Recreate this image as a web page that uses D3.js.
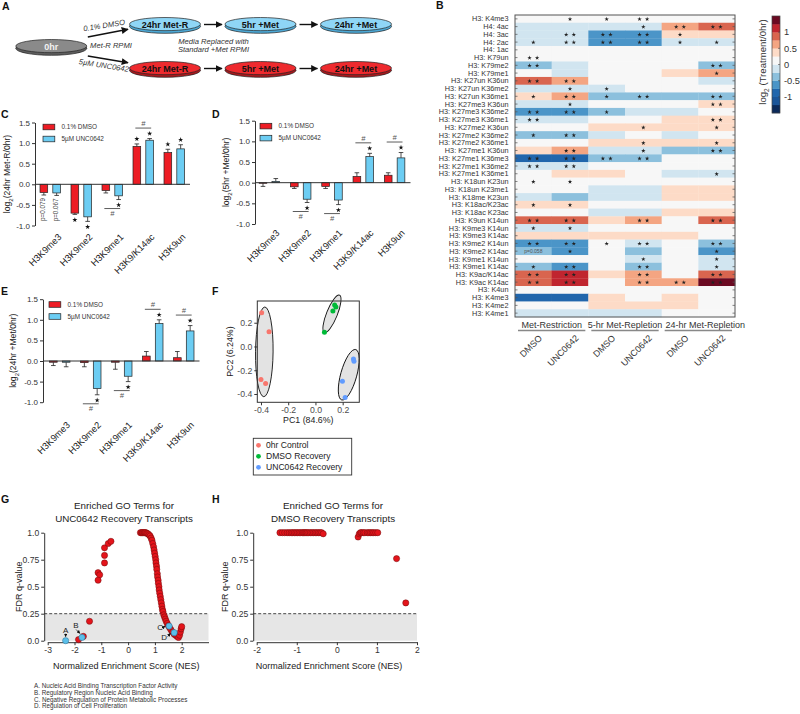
<!DOCTYPE html>
<html><head><meta charset="utf-8">
<script src="https://cdn.jsdelivr.net/npm/d3@7"></script>
<style>
body{margin:0;background:#fff}
svg{display:block}
text{font-family:"Liberation Sans",Arial,Helvetica,sans-serif}
</style>
</head><body>
<svg id="chart" width="800" height="714"></svg>
<script>
// ================= DATA =================
// Panel A
const stageLabels = ["24hr Met-R", "5hr +Met", "24hr +Met"];
const conditionLabels = ["0.1% DMSO", "5µM UNC0642"];

// Panels C, D, E
const barCategories = ["H3K9me3", "H3K9me2", "H3K9me1", "H3K9/K14ac", "H3K9un"];
const seriesNames = ["0.1% DMSO", "5µM UNC0642"];
const cDmso = [-0.20, -0.70, -0.15, 0.92, 0.77];
const cDmsoErr = [0.06, 0.03, 0.06, 0.06, 0.08];
const cUnc = [-0.21, -0.79, -0.28, 1.07, 0.86];
const cUncErr = [0.06, 0.11, 0.09, 0.04, 0.10];
const cStars = [[1, 0, "below"], [3, 0, "above"], [4, 0, "above"], [1, 1, "below"], [2, 1, "below"], [3, 1, "above"], [4, 1, "above"]];
const cHashes = [[2, "below"], [3, "above"]];
const cPvals = [[0, 0, "p=0.079"], [0, 1, "p=0.067"]];

const dDmso = [-0.01, -0.10, -0.09, 0.15, 0.18];
const dDmsoErr = [0.08, 0.04, 0.05, 0.09, 0.06];
const dUnc = [0.03, -0.40, -0.42, 0.63, 0.60];
const dUncErr = [0.07, 0.08, 0.11, 0.08, 0.13];
const dStars = [[1, 1, "below"], [2, 1, "below"], [3, 1, "above"], [4, 1, "above"]];
const dHashes = [[1, "below"], [2, "below"], [3, "above"], [4, "above"]];

const eDmso = [-0.03, -0.04, -0.03, 0.12, 0.08];
const eDmsoErr = [0.08, 0.10, 0.17, 0.11, 0.15];
const eUnc = [-0.03, -0.67, -0.37, 0.91, 0.73];
const eUncErr = [0.11, 0.15, 0.13, 0.09, 0.13];
const eStars = [[1, 1, "below"], [2, 1, "below"], [3, 1, "above"], [4, 1, "above"]];
const eHashes = [[1, "below"], [2, "below"], [3, "above"], [4, "above"]];

const barTicks = [-1.0, -0.5, 0.0, 0.5, 1.0, 1.5];

// Panel B heatmap
const hmRows = ["H3: K4me3","H4: 4ac","H4: 3ac","H4: 2ac","H4: 1ac","H3: K79un","H3: K79me2","H3: K79me1",
 "H3: K27un K36un","H3: K27un K36me2","H3: K27un K36me1","H3: K27me3 K36un","H3: K27me3 K36me2","H3: K27me3 K36me1",
 "H3: K27me2 K36un","H3: K27me2 K36me2","H3: K27me2 K36me1","H3: K27me1 K36un","H3: K27me1 K36me3","H3: K27me1 K36me2",
 "H3: K27me1 K36me1","H3: K18un K23un","H3: K18un K23me1","H3: K18me K23un","H3: K18ac/K23ac","H3: K18ac K23ac",
 "H3: K9un K14un","H3: K9me3 K14un","H3: K9me3 K14ac","H3: K9me2 K14un","H3: K9me2 K14ac","H3: K9me1 K14un",
 "H3: K9me1 K14ac","H3: K9ac/K14ac","H3: K9ac K14ac","H3: K4un","H3: K4me3","H3: K4me2","H3: K4me1"];
const hmColumns = ["DMSO", "UNC0642", "DMSO", "UNC0642", "DMSO", "UNC0642"];
const hmGroups = ["Met-Restriction", "5-hr Met-Repletion", "24-hr Met-Repletion"];
const hmValues = [
 [0.05,0.05,0.05,0.05,0.05,0.05],
 [-0.15,-0.15,-0.15,-0.15,0.6,0.85],
 [-0.15,-0.15,-0.55,-0.55,0.35,0.35],
 [-0.15,-0.15,-0.55,-0.55,-0.15,-0.15],
 [0.05,0.05,0.05,0.05,0.05,0.05],
 [0.05,0.05,0.05,0.05,0.05,0.05],
 [-0.4,-0.15,0.05,0.05,0.05,-0.4],
 [0.05,-0.15,0.05,0.05,0.35,0.6],
 [0.85,0.6,0.05,0.05,0.05,-0.15],
 [-0.15,-0.15,-0.15,0.05,0.05,0.05],
 [0.35,0.6,-0.4,-0.4,-0.4,-0.4],
 [-0.15,-0.15,0.05,0.05,0.05,0.35],
 [-0.6,-0.6,-0.4,-0.15,-0.15,0.05],
 [-0.15,-0.15,0.05,0.05,0.35,0.35],
 [0.05,0.05,0.35,0.35,0.35,0.35],
 [-0.4,-0.4,-0.15,0.05,-0.15,0.05],
 [0.05,0.05,0.35,0.35,0.35,0.35],
 [0.35,0.6,-0.15,-0.15,-0.4,-0.4],
 [-0.9,-0.9,-0.4,-0.4,0.05,0.05],
 [-0.15,-0.15,0.05,0.05,0.05,0.05],
 [0.05,0.35,0.35,0.05,-0.15,-0.15],
 [0.05,0.05,0.05,0.05,0.05,0.05],
 [0.05,0.05,-0.15,-0.15,0.35,0.35],
 [-0.15,-0.4,-0.15,-0.15,0.35,0.35],
 [0.35,0.35,0.05,0.05,0.05,0.05],
 [0.05,0.05,-0.15,-0.15,0.35,0.35],
 [0.85,0.85,0.35,0.6,0.05,0.85],
 [-0.15,-0.15,0.05,0.05,0.05,0.05],
 [0.35,0.35,0.35,0.35,0.35,0.05],
 [-0.6,-0.6,0.05,-0.15,0.05,-0.4],
 [-0.4,-0.6,0.05,-0.4,0.05,-0.6],
 [0.05,0.05,0.05,-0.15,0.05,-0.15],
 [-0.4,-0.6,0.05,-0.4,0.05,-0.15],
 [0.85,1.1,0.35,0.6,0.05,0.85],
 [0.85,1.1,0.05,0.6,0.6,1.4],
 [0.05,0.05,0.05,0.05,0.05,0.05],
 [-0.9,-0.9,0.35,0.05,0.35,0.05],
 [0.05,0.05,0.35,0.35,0.35,0.05],
 [-0.15,-0.15,-0.15,-0.15,0.05,0.05]
];
const hmStars = [
 [0,1,1,2,0,0],[0,0,0,1,2,2],[0,2,2,2,1,0],[1,2,2,2,1,1],[0,0,0,0,0,0],[2,0,0,0,0,0],[2,0,0,0,0,2],[0,0,0,0,0,1],
 [2,2,0,0,0,0],[0,1,1,0,0,0],[1,2,1,2,0,2],[0,1,0,0,0,2],[2,2,1,0,0,0],[2,0,0,0,0,2],[0,0,0,1,0,1],[1,2,0,0,0,0],
 [0,0,0,1,0,1],[0,2,0,1,0,2],[2,2,2,2,0,0],[2,2,0,0,0,0],[0,0,0,0,0,1],[1,1,0,0,0,0],[0,0,0,0,0,0],[0,0,0,0,0,0],
 [1,1,0,0,0,0],[0,0,0,0,0,0],[2,2,0,2,0,2],[1,1,0,0,0,0],[0,0,0,0,0,0],[2,2,1,2,0,2],[0,1,0,0,0,1],[0,0,0,1,0,1],
 [1,2,0,2,0,1],[2,2,0,2,0,2],[2,2,0,2,2,2],[0,0,0,0,0,0],[0,0,0,0,0,0],[0,0,0,0,0,0],[0,0,0,0,0,0]
];
const hmNotes = [[30, 0, "p=0.058"]];
const hmColors = ["#0b2a5a","#1a5599","#2166ac","#4b95c8","#8cc0dd","#d1e5f0","#f7f7f7","#fddbc7","#f4a582","#d9654f","#c0252f","#6b0a22"];
const hmColorTicks = [-1, -0.5, 0, 0.5, 1];

// Panel F PCA
const pcaGroups = ["0hr Control", "DMSO Recovery", "UNC0642 Recovery"];
const pcaColors = ["#f8766d", "#00ba38", "#619cff"];
const pcaPC1 = [-0.395, -0.341, -0.400, -0.366, 0.066, 0.128, 0.141, 0.150, 0.279, 0.283, 0.198, 0.218];
const pcaPC2 = [0.284, 0.124, -0.278, -0.311, 0.119, 0.299, 0.349, 0.333, -0.106, -0.124, -0.292, -0.430];
const pcaGroup = [0, 0, 0, 0, 1, 1, 1, 1, 2, 2, 2, 2];
const pcaXTicks = [-0.4, -0.2, 0.0, 0.2];
const pcaYTicks = [-0.4, -0.2, 0.0, 0.2];

// Panel G
const gNES = [-1.12,-1.06,-1.12,-0.88,-0.88,-0.88,-0.74,-0.64,-1.44,-1.85,-1.67,
 0.46,0.50,0.53,0.56,0.60,0.63,0.66,0.70,0.74,0.78,0.82,0.86,0.89,0.92,0.95,0.97,0.99,1.01,1.03,1.04,1.06,1.07,1.09,1.10,1.12,1.13,1.15,1.16,1.18,1.20,1.22,1.24,1.26,1.28,1.30,1.33,1.36,1.39,1.42,1.46,1.50,1.55,1.60,1.66,1.72,1.78,1.83,1.88,1.92,1.95,1.98,2.00];
const gFDR = [0.63,0.61,0.56,0.86,0.79,0.72,0.90,0.92,0.18,0.01,0.04,
 1.00,1.00,1.00,1.00,1.00,1.00,1.00,0.995,0.99,0.98,0.97,0.95,0.93,0.90,0.87,0.84,0.81,0.78,0.75,0.72,0.69,0.66,0.62,0.59,0.56,0.53,0.50,0.47,0.44,0.41,0.38,0.35,0.32,0.29,0.27,0.24,0.22,0.20,0.18,0.16,0.14,0.12,0.10,0.08,0.06,0.05,0.04,0.03,0.05,0.08,0.11,0.13];
const gHighlightLabels = ["A", "B", "C", "D"];
const gHighlightNES = [-2.33, -1.72, 1.53, 1.72];
const gHighlightFDR = [0.0, 0.03, 0.135, 0.074];
const gTermNames = ["A. Nucleic Acid Binding Transcription Factor Activity", "B. Regulatory Region Nucleic Acid Binding",
 "C. Negative Regulation of Protein Metabolic Processes", "D. Regulation of Cell Proliferation"];
const gXTicks = [-3, -2, -1, 0, 1, 2];

// Panel H
const hNES = [-1.42,-1.36,-1.30,-1.24,-1.19,-1.14,-1.10,-1.06,-1.02,-0.98,-0.94,-0.90,-0.86,-0.83,-0.80,-0.77,-0.74,-0.70,-0.66,-0.62,-0.58,-0.54,-0.50,-0.46,-0.42,-0.38,-0.34,
 0.53,0.56,0.59,0.62,0.66,0.70,0.76,0.80,0.84,0.88,0.92,0.97,1.02,1.49,1.72];
const hFDR = [1,1,1,1,1,1,1,1,1,1,1,1,1,1,1,1,1,1,1,1,1,1,1,1,1,1,0.99,
 0.96,0.99,1,1,1,1,1,1,1,1,1,1,1,0.76,0.35];
const hXTicks = [-2, -1, 0, 1, 2];
const fdrTicks = [0, 0.25, 0.5, 0.75, 1.0];
const fdrCutoff = 0.25;

// ================= DRAWING =================
const svg = d3.select("#chart");
const INK = "#222";

function addText(parent, x, y, str, o = {}) {
  const t = parent.append("text").attr("x", x).attr("y", y).text(str)
    .attr("font-size", o.size || 8).attr("fill", o.fill || INK)
    .attr("text-anchor", o.anchor || "start");
  if (o.weight) t.attr("font-weight", o.weight);
  if (o.style) t.attr("font-style", o.style);
  if (o.rotate !== undefined) t.attr("transform", `rotate(${o.rotate},${x},${y})`);
  return t;
}

// panel letters
[["A",2,10],["B",436,9],["C",1,118],["D",212,118],["E",1,295],["F",212,295],["G",1,503],["H",212,503]]
  .forEach(([l, x, y]) => addText(svg, x, y, l, {size: 10.5, weight: "bold", fill: "#111"}));

// ---------- Panel A ----------
(function () {
  const g = svg.append("g");
  const defs = svg.append("defs");
  defs.append("marker").attr("id", "arr").attr("viewBox", "0 0 10 10").attr("refX", 9).attr("refY", 5)
    .attr("markerWidth", 5).attr("markerHeight", 5).attr("orient", "auto")
    .append("path").attr("d", "M0,0L10,5L0,10z").attr("fill", "#111");
  const sx = d3.scalePoint().domain(stageLabels).range([165, 356]);
  const sy = d3.scalePoint().domain(conditionLabels).range([24.5, 68.5]);
  const rx = 35.5, ry = 7;
  function dish(cx, cy, main, base, label, tcol) {
    g.append("ellipse").attr("cx", cx).attr("cy", cy + 1.8).attr("rx", rx).attr("ry", ry)
      .attr("fill", base).attr("stroke", "#222").attr("stroke-width", 0.7);
    g.append("ellipse").attr("cx", cx).attr("cy", cy - 0.4).attr("rx", rx).attr("ry", ry - 0.4)
      .attr("fill", main).attr("stroke", "#222").attr("stroke-width", 0.7);
    addText(g, cx, cy + 3, label, {size: 9, weight: "bold", anchor: "middle", fill: tcol});
  }
  const zeroX = 51.3, zeroY = (sy(conditionLabels[0]) + sy(conditionLabels[1])) / 2;
  dish(zeroX, zeroY, "#8a8a8a", "#5e5e5e", "0hr", "#f2f2f2");
  const pal = [["#8fd6f6", "#4da9d6"], ["#ee2a2e", "#a8191d"]];
  conditionLabels.forEach((c, ci) => {
    stageLabels.forEach((s, si) => {
      dish(sx(s), sy(c), pal[ci][0], pal[ci][1], s, "#111");
      if (si < stageLabels.length - 1) {
        g.append("line").attr("x1", sx(s) + rx + 3.5).attr("x2", sx(stageLabels[si + 1]) - rx - 3)
          .attr("y1", sy(c)).attr("y2", sy(c)).attr("stroke", "#111").attr("stroke-width", 1.4)
          .attr("marker-end", "url(#arr)");
      }
    });
    const dir = ci === 0 ? -1 : 1;
    g.append("line").attr("x1", zeroX + rx + 1).attr("y1", zeroY + dir * 9.5)
      .attr("x2", sx(stageLabels[0]) - rx - 1.5).attr("y2", sy(c) + (ci === 0 ? 4.8 : -5.8))
      .attr("stroke", "#111").attr("stroke-width", 1.4).attr("marker-end", "url(#arr)");
  });
  addText(g, 104.5, 28, conditionLabels[0], {size: 7.6, style: "italic", anchor: "middle", fill: "#333", rotate: -9});
  addText(g, 103.5, 68, conditionLabels[1], {size: 7.6, style: "italic", anchor: "middle", fill: "#333", rotate: 9});
  addText(g, 111, 47.8, "Met-R RPMI", {size: 7.6, style: "italic", anchor: "middle", fill: "#333"});
  addText(g, 213.5, 43.8, "Media Replaced with", {size: 7.6, style: "italic", anchor: "middle", fill: "#333"});
  addText(g, 213.5, 52.3, "Standard +Met RPMI", {size: 7.6, style: "italic", anchor: "middle", fill: "#333"});
})();

// ---------- Bar panels C, D, E ----------
function barPanel(o) {
  const g = svg.append("g");
  const y = d3.scaleLinear().domain([-1, 1.5]).range(o.yRange);
  const x = d3.scaleBand().domain(barCategories).range(o.band);
  const inner = d3.scaleBand().domain(seriesNames).range([-10.5, 10]).paddingInner(0.4);
  const colors = ["#ed1c24", "#6ccdf3"];
  const vals = [o.dmso, o.unc], errs = [o.dmsoErr, o.uncErr];

  const ax = g.append("g").attr("transform", `translate(${o.axisX},0)`)
    .call(d3.axisLeft(y).tickValues(barTicks).tickFormat(d => d.toFixed(1)).tickSize(3).tickSizeOuter(0).tickPadding(2));
  ax.selectAll("path,line").attr("stroke", "#333");
  ax.selectAll("text").attr("font-size", 8).attr("fill", "#333").attr("font-family", "Liberation Sans, Arial, sans-serif");

  const cx = (ci, si) => x(barCategories[ci]) + x.bandwidth() / 2 + inner(seriesNames[si]) + inner.bandwidth() / 2;

  seriesNames.forEach((s, si) => {
    barCategories.forEach((c, ci) => {
      const v = vals[si][ci], e = errs[si][ci];
      const bx = x(c) + x.bandwidth() / 2 + inner(s);
      const tip = v >= 0 ? v + e : v - e;
      g.append("line").attr("x1", bx + inner.bandwidth() / 2).attr("x2", bx + inner.bandwidth() / 2)
        .attr("y1", y(v)).attr("y2", y(tip)).attr("stroke", "#222").attr("stroke-width", 0.8);
      g.append("line").attr("x1", bx + inner.bandwidth() / 2 - 2.3).attr("x2", bx + inner.bandwidth() / 2 + 2.3)
        .attr("y1", y(tip)).attr("y2", y(tip)).attr("stroke", "#222").attr("stroke-width", 0.8);
      g.append("rect").attr("x", bx).attr("width", inner.bandwidth())
        .attr("y", y(Math.max(0, v))).attr("height", Math.max(0.6, Math.abs(y(v) - y(0))))
        .attr("fill", colors[si]).attr("stroke", "#222").attr("stroke-width", 0.7);
    });
  });
  // zero line
  g.append("line").attr("x1", o.axisX).attr("x2", o.band[1]).attr("y1", y(0)).attr("y2", y(0))
    .attr("stroke", "#333").attr("stroke-width", 1);

  const star = d3.symbol().type(d3.symbolStar).size(8);
  o.stars.forEach(([ci, si, pos]) => {
    const v = vals[si][ci], e = errs[si][ci];
    const yy = pos === "above" ? y(v + e) - 5 : y(v - e) + 5.5;
    g.append("path").attr("d", star).attr("transform", `translate(${cx(ci, si)},${yy})`).attr("fill", "#111");
  });
  o.hashes.forEach(([ci, pos]) => {
    const ends = [0, 1].map(si => pos === "above" ? y(vals[si][ci] + errs[si][ci]) : y(vals[si][ci] - errs[si][ci]));
    const ly = pos === "above" ? Math.min(...ends) - 10.5 : Math.max(...ends) + 9;
    g.append("line").attr("x1", cx(ci, 0) - 1.5).attr("x2", cx(ci, 1) + 1.5).attr("y1", ly).attr("y2", ly)
      .attr("stroke", "#333").attr("stroke-width", 0.8);
    addText(g, (cx(ci, 0) + cx(ci, 1)) / 2, pos === "above" ? ly - 2 : ly + 7.5, "#",
      {size: 7.5, anchor: "middle", fill: "#555", style: "italic"});
  });
  (o.pvals || []).forEach(([ci, si, s]) => {
    const v = vals[si][ci], e = errs[si][ci];
    const px = cx(ci, si) + 1.5, py = y(v - e) + 3;
    g.append("text").attr("transform", `translate(${px},${py}) rotate(-90)`).attr("text-anchor", "end")
      .attr("font-size", 6.3).attr("fill", "#444").text(s);
  });
  // x labels
  barCategories.forEach(c => {
    const lx = x(c) + x.bandwidth() / 2 + o.labelDx;
    g.append("text").attr("transform", `translate(${lx},${o.labelY}) rotate(-45)`).attr("text-anchor", "end")
      .attr("dy", "0.7em").attr("font-size", 9.3).attr("fill", "#222").text(c);
  });
  // legend
  seriesNames.forEach((s, si) => {
    const ly = o.legend[1] + si * 12;
    g.append("rect").attr("x", o.legend[0]).attr("y", ly).attr("width", 11.8).attr("height", 5.6)
      .attr("fill", colors[si]).attr("stroke", "#222").attr("stroke-width", 0.7);
    addText(g, o.legend[0] + 18.5, ly + 5, s, {size: 6.4, fill: "#333"});
  });
  // y label
  const mid = (o.yRange[0] + o.yRange[1]) / 2;
  const t = g.append("text").attr("transform", `translate(${o.ylabX},${mid}) rotate(-90)`).attr("text-anchor", "middle")
    .attr("font-size", 8.6).attr("fill", "#222");
  t.append("tspan").text("log");
  t.append("tspan").text("2").attr("font-size", 6).attr("dy", 2.5);
  t.append("tspan").text(o.ylab).attr("dy", -2.5);
}

barPanel({axisX: 35, band: [35, 190], yRange: [225.5, 122.5], labelY: 233, labelDx: 7, legend: [43, 124.2],
  dmso: cDmso, dmsoErr: cDmsoErr, unc: cUnc, uncErr: cUncErr, stars: cStars, hashes: cHashes, pvals: cPvals,
  ylabX: 10, ylab: "(24hr Met-R/0hr)"});
barPanel({axisX: 255, band: [254, 410.5], yRange: [224, 120.7], labelY: 229, labelDx: 6, legend: [260, 123.3],
  dmso: dDmso, dmsoErr: dDmsoErr, unc: dUnc, uncErr: dUncErr, stars: dStars, hashes: dHashes,
  ylabX: 229, ylab: "(5hr +Met/0hr)"});
barPanel({axisX: 43, band: [44.5, 199.5], yRange: [402.2, 299.2], labelY: 421, labelDx: 6, legend: [49, 301.7],
  dmso: eDmso, dmsoErr: eDmsoErr, unc: eUnc, uncErr: eUncErr, stars: eStars, hashes: eHashes,
  ylabX: 16, ylab: "(24hr +Met/0hr)"});

// ---------- Panel B heatmap ----------
(function () {
  const g = svg.append("g");
  const x = d3.scaleBand().domain(d3.range(hmColumns.length)).range([515, 735]);
  const y = d3.scaleBand().domain(d3.range(hmRows.length)).range([15, 317]);
  const color = d3.scaleQuantize().domain([-1.5, 1.5]).range(hmColors);
  hmValues.forEach((row, ri) => row.forEach((v, ci) => {
    g.append("rect").attr("x", x(ci)).attr("y", y(ri)).attr("width", x.bandwidth() + 0.3).attr("height", y.bandwidth() + 0.3)
      .attr("fill", color(v));
  }));
  g.append("rect").attr("x", 515).attr("y", 15).attr("width", 220).attr("height", 302)
    .attr("fill", "none").attr("stroke", "#555").attr("stroke-width", 1);
  hmRows.forEach((r, ri) => {
    const yc = y(ri) + y.bandwidth() / 2;
    g.append("line").attr("x1", 515).attr("x2", 517.5).attr("y1", yc).attr("y2", yc).attr("stroke", "#555").attr("stroke-width", 0.7);
    g.append("line").attr("x1", 732.5).attr("x2", 735).attr("y1", yc).attr("y2", yc).attr("stroke", "#555").attr("stroke-width", 0.7);
    addText(g, 508.5, yc + 2.6, r, {size: 7.3, anchor: "end", fill: "#333"});
  });
  const star = d3.symbol().type(d3.symbolStar).size(6);
  hmStars.forEach((row, ri) => row.forEach((n, ci) => {
    const xc = x(ci) + x.bandwidth() / 2, yc = y(ri) + y.bandwidth() / 2;
    const offs = n === 1 ? [0] : n === 2 ? [-3.8, 3.8] : [];
    offs.forEach(o => g.append("path").attr("d", star).attr("transform", `translate(${xc + o},${yc + 0.3})`).attr("fill", "#222"));
  }));
  hmNotes.forEach(([ri, ci, s]) => addText(g, x(ci) + x.bandwidth() / 2, y(ri) + y.bandwidth() / 2 + 1.8, s, {size: 5, anchor: "middle", fill: "#555"}));
  hmGroups.forEach((gr, gi) => {
    const x0 = x(gi * 2), x1 = x(gi * 2 + 1) + x.bandwidth();
    g.append("line").attr("x1", x0 + 3).attr("x2", x1 - 3).attr("y1", 330.5).attr("y2", 330.5)
      .attr("stroke", "#888").attr("stroke-width", 1.4);
    addText(g, (x0 + x1) / 2 + (gi === 2 ? 7 : 0), 327.5, gr, {size: 9, anchor: "middle", fill: "#333"});
  });
  hmColumns.forEach((c, ci) => {
    const xc = x(ci) + x.bandwidth() / 2 + 4.5;
    g.append("text").attr("transform", `translate(${xc},${334}) rotate(-45)`).attr("text-anchor", "end")
      .attr("dy", "0.75em").attr("font-size", 9).attr("fill", "#333").text(c);
  });
  const cb = d3.scaleLinear().domain([-1.5, 1.5]).range([113, 16]);
  const th = [-1.5, ...color.thresholds(), 1.5];
  hmColors.forEach((c, i) => {
    g.append("rect").attr("x", 772).attr("width", 8).attr("y", cb(th[i + 1])).attr("height", cb(th[i]) - cb(th[i + 1]) + 0.2).attr("fill", c);
  });
  g.append("rect").attr("x", 772).attr("y", 16).attr("width", 8).attr("height", 97).attr("fill", "none").attr("stroke", "#444").attr("stroke-width", 0.7);
  hmColorTicks.forEach(t => {
    g.append("line").attr("x1", 778).attr("x2", 780).attr("y1", cb(t)).attr("y2", cb(t)).attr("stroke", "#444").attr("stroke-width", 0.6);
    addText(g, 784, cb(t) + 3.3, t === 0 ? "0" : String(t), {size: 9.3, fill: "#333"});
  });
  const t = g.append("text").attr("transform", `translate(766,62) rotate(-90)`).attr("text-anchor", "middle")
    .attr("font-size", 9.6).attr("fill", "#333");
  t.append("tspan").text("log");
  t.append("tspan").text("2").attr("font-size", 6.5).attr("dy", 2.8);
  t.append("tspan").text(" (Treatment/0hr)").attr("dy", -2.8);
})();

// ---------- Panel F PCA ----------
(function () {
  const g = svg.append("g");
  const x = d3.scaleLinear().domain([-0.427, 0.322]).range([257.3, 359.3]);
  const y = d3.scaleLinear().domain([-0.47, 0.383]).range([402.3, 301]);
  pcaGroups.forEach((gr, gi) => {
    const pts = pcaPC1.map((v, i) => [x(v), y(pcaPC2[i]), pcaGroup[i]]).filter(p => p[2] === gi);
    const n = pts.length;
    const mx = d3.mean(pts, p => p[0]), my = d3.mean(pts, p => p[1]);
    let sxx = 0, syy = 0, sxy = 0;
    pts.forEach(p => { sxx += (p[0] - mx) ** 2; syy += (p[1] - my) ** 2; sxy += (p[0] - mx) * (p[1] - my); });
    sxx /= (n - 1); syy /= (n - 1); sxy /= (n - 1);
    const m = (sxx + syy) / 2, d = Math.sqrt(((sxx - syy) / 2) ** 2 + sxy ** 2);
    const l1 = m + d, l2 = Math.max(0, m - d);
    const ang = Math.atan2(l1 - sxx, sxy || 1e-9) * 180 / Math.PI;
    const a = 1.15 * Math.sqrt(l1) + 4.5, b = 1.15 * Math.sqrt(l2) + 4.5;
    g.append("ellipse").attr("cx", 0).attr("cy", 0).attr("rx", a).attr("ry", b)
      .attr("transform", `translate(${mx},${my}) rotate(${ang})`)
      .attr("fill", "#e3e3e3").attr("stroke", "#111").attr("stroke-width", 0.9);
  });
  pcaPC1.forEach((v, i) => {
    g.append("circle").attr("cx", x(v)).attr("cy", y(pcaPC2[i])).attr("r", 2.5).attr("fill", pcaColors[pcaGroup[i]]);
  });
  g.append("rect").attr("x", 257.3).attr("y", 301).attr("width", 102).attr("height", 101.3)
    .attr("fill", "none").attr("stroke", "#333").attr("stroke-width", 1);
  const ax = g.append("g").attr("transform", "translate(0,402.3)")
    .call(d3.axisBottom(x).tickValues(pcaXTicks).tickFormat(d => d.toFixed(1)).tickSize(3).tickSizeOuter(0).tickPadding(2));
  const ay = g.append("g").attr("transform", "translate(257.3,0)")
    .call(d3.axisLeft(y).tickValues(pcaYTicks).tickFormat(d => d.toFixed(1)).tickSize(3).tickSizeOuter(0).tickPadding(2));
  [ax, ay].forEach(a => {
    a.select(".domain").remove();
    a.selectAll("line").attr("stroke", "#333");
    a.selectAll("text").attr("font-size", 8.7).attr("fill", "#4d4d4d").attr("font-family", "Liberation Sans, Arial, sans-serif");
  });
  addText(g, 308.3, 422.5, "PC1 (84.6%)", {size: 8.8, anchor: "middle", fill: "#222"});
  g.append("text").attr("transform", "translate(232.5,351.6) rotate(-90)").attr("text-anchor", "middle")
    .attr("font-size", 8.8).attr("fill", "#222").text("PC2 (6.24%)");
  g.append("rect").attr("x", 253.3).attr("y", 438.3).attr("width", 98.4).attr("height", 36.7)
    .attr("fill", "#fff").attr("stroke", "#333").attr("stroke-width", 0.9);
  pcaGroups.forEach((gr, gi) => {
    const ly = 445.3 + gi * 11;
    g.append("circle").attr("cx", 258.5).attr("cy", ly).attr("r", 2.4).attr("fill", pcaColors[gi]);
    addText(g, 266, ly + 3.1, gr, {size: 8.6, fill: "#222"});
  });
})();

// ---------- Panels G, H ----------
function goPanel(o) {
  const g = svg.append("g");
  const x = d3.scaleLinear().domain(o.xDomain).range(o.xRange);
  const y = d3.scaleLinear().domain([0, 1]).range([640.7, 532.7]);
  const axX = o.xRange[0] - 3.5;
  g.append("rect").attr("x", axX).attr("y", y(fdrCutoff)).attr("width", o.xRange[1] - axX).attr("height", y(0) - y(fdrCutoff))
    .attr("fill", "#e6e6e6");
  g.append("line").attr("x1", axX).attr("x2", o.xRange[1]).attr("y1", y(fdrCutoff)).attr("y2", y(fdrCutoff))
    .attr("stroke", "#333").attr("stroke-width", 0.9).attr("stroke-dasharray", "3,2");
  const ay = g.append("g").attr("transform", `translate(${axX},0)`)
    .call(d3.axisLeft(y).tickValues(fdrTicks).tickFormat(d => (d === 0 ? "0.0" : d === 1 ? "1.0" : d === 0.5 ? "0.5" : String(d)))
      .tickSize(3).tickSizeOuter(0).tickPadding(2));
  const ax = g.append("g").attr("transform", `translate(0,${y(0) + 1.5})`)
    .call(d3.axisBottom(x).tickValues(o.xTicks).tickFormat(d3.format("d")).tickSize(3).tickSizeOuter(0).tickPadding(2));
  [ax, ay].forEach(a => {
    a.selectAll("path,line").attr("stroke", "#333");
    a.selectAll("text").attr("font-size", 8.6).attr("fill", "#333").attr("font-family", "Liberation Sans, Arial, sans-serif");
  });
  ax.selectAll("text").text(d => d < 0 ? "-" + Math.abs(d) : String(d));
  o.nes.forEach((v, i) => {
    g.append("circle").attr("cx", x(v)).attr("cy", y(o.fdr[i])).attr("r", 3.1)
      .attr("fill", "#e4141b").attr("stroke", "#6e0c0c").attr("stroke-width", 0.5);
  });
  if (o.hi) {
    o.hi.nes.forEach((v, i) => {
      g.append("circle").attr("cx", x(v)).attr("cy", y(o.hi.fdr[i])).attr("r", 3.1)
        .attr("fill", "#5bbfe9").attr("stroke", "#2b6f95").attr("stroke-width", 0.5);
    });
    const px = i => x(o.hi.nes[i]), py = i => y(o.hi.fdr[i]);
    const lab = [[0, 0, -11, 0, -4], [1, -6, -12, -2, -4], [2, -9, 1, -4, 0], [3, -10, 4, -4, 0.5]];
    lab.forEach(([i, dx, dy, ex, ey]) => {
      const tx = px(i) + dx, ty = py(i) + dy;
      addText(g, tx, ty + 2.8, o.hi.labels[i], {size: 8, anchor: "middle", fill: "#222"});
      const sx = i < 2 ? tx : tx + 3.5, sy = i < 2 ? ty + 4 : ty;
      g.append("line").attr("x1", sx).attr("y1", sy).attr("x2", px(i) + ex).attr("y2", py(i) + ey)
        .attr("stroke", "#111").attr("stroke-width", 0.7).attr("marker-end", "url(#arr)");
    });
  }
  const cx = o.titleX;
  addText(g, cx, 509, "Enriched GO Terms for", {size: 9.8, anchor: "middle", fill: "#222"});
  addText(g, cx, 522, o.title2, {size: 9.8, anchor: "middle", fill: "#222"});
  addText(g, (axX + o.xRange[1]) / 2 + o.xlabDx, 668.5, "Normalized Enrichment Score (NES)", {size: 9, anchor: "middle", fill: "#222"});
  g.append("text").attr("transform", `translate(${o.ylabX},${y(0.5)}) rotate(-90)`).attr("text-anchor", "middle")
    .attr("font-size", 9).attr("fill", "#222").text("FDR q-value");
}
goPanel({xDomain: [-3, 3], xRange: [47.7, 208.5], xTicks: gXTicks, nes: gNES, fdr: gFDR, titleX: 124, title2: "UNC0642 Recovery Transcripts",
  ylabX: 22, xlabDx: 0,
  hi: {nes: gHighlightNES, fdr: gHighlightFDR, labels: gHighlightLabels}});
goPanel({xDomain: [-2, 2], xRange: [256.7, 417], xTicks: hXTicks, nes: hNES, fdr: hFDR, titleX: 333, title2: "DMSO Recovery Transcripts",
  ylabX: 228, xlabDx: -6});

gTermNames.forEach((t, i) => addText(svg, 34, 688.3 + i * 6.7, t, {size: 6.3, fill: "#333"}));
</script>
</body></html>
